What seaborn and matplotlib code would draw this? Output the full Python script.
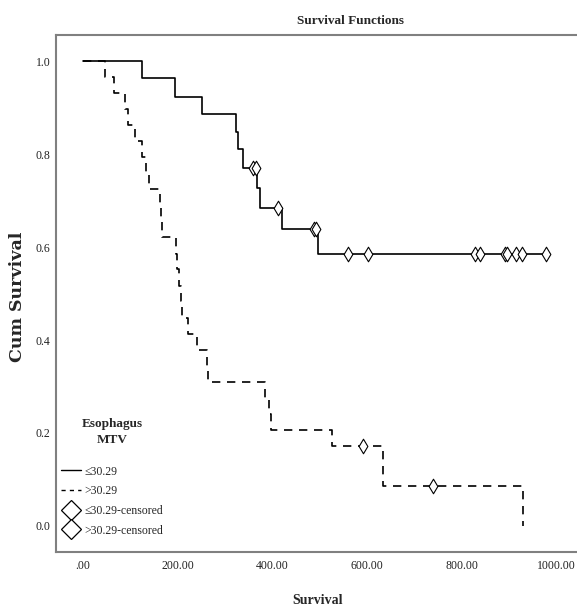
import matplotlib
matplotlib.use('Agg')
import matplotlib.pyplot as plt
import seaborn as sns
import pandas as pd
from matplotlib.lines import Line2D

# step points (time, cumulative survival)
low_time = [0, 125, 195, 251, 323, 328, 338, 367, 374, 420, 497, 979]
low_surv = [1.0, 0.963, 0.923, 0.886, 0.848, 0.81, 0.77, 0.727, 0.685, 0.639, 0.585, 0.585]
low_cens_time = [359, 366, 412, 488, 493, 560, 603, 829, 839, 892, 896, 915, 928, 979]
low_cens_surv = [0.77, 0.77, 0.685, 0.639, 0.639, 0.585, 0.585, 0.585, 0.585, 0.585,
                 0.585, 0.585, 0.585, 0.585]

high_time = [0, 47, 66, 89, 95, 110, 125, 133, 140, 163, 165, 167, 197, 199, 203,
             207, 209, 222, 241, 262, 264, 385, 393, 397, 526, 634, 930]
high_surv = [1.0, 0.966, 0.931, 0.897, 0.862, 0.828, 0.793, 0.759, 0.724, 0.69,
             0.655, 0.621, 0.586, 0.552, 0.517, 0.483, 0.448, 0.414, 0.379, 0.345,
             0.31, 0.276, 0.241, 0.207, 0.172, 0.086, 0.0]
high_cens_time = [592, 740]
high_cens_surv = [0.172, 0.086]

x_ticks = [0, 200, 400, 600, 800, 1000]
x_labels = ['.00', '200.00', '400.00', '600.00', '800.00', '1000.00']
y_ticks = [0.0, 0.2, 0.4, 0.6, 0.8, 1.0]
y_labels = ['0.0', '0.2', '0.4', '0.6', '0.8', '1.0']

sns.set_style('white')
plt.rcParams['font.family'] = ['Liberation Serif', 'DejaVu Serif']

fig = plt.figure(figsize=(5.77, 6.11), dpi=100)
ax = fig.add_axes([0.097, 0.0966, 0.903, 0.846])

low = pd.DataFrame({'time': low_time, 'surv': low_surv})
high = pd.DataFrame({'time': high_time, 'surv': high_surv})

sns.lineplot(data=low, x='time', y='surv', ax=ax, color='black', lw=1.2,
             drawstyle='steps-post', estimator=None, sort=False)
sns.lineplot(data=high, x='time', y='surv', ax=ax, color='black', lw=1.2,
             drawstyle='steps-post', estimator=None, sort=False,
             linestyle=(0, (5, 4)))

sns.scatterplot(x=low_cens_time, y=low_cens_surv, ax=ax, marker='d', s=55,
                facecolor='white', edgecolor='black', linewidth=0.8, zorder=3)
sns.scatterplot(x=high_cens_time, y=high_cens_surv, ax=ax, marker='d', s=55,
                facecolor='white', edgecolor='black', linewidth=0.8, zorder=3)

ax.set_xlim(-57, 1044)
ax.set_ylim(-0.056, 1.056)
ax.set_xticks(x_ticks)
ax.set_xticklabels(x_labels)
ax.set_yticks(y_ticks)
ax.set_yticklabels(y_labels)
ax.tick_params(length=0, labelsize=8.5, colors='#222222')
ax.tick_params(axis='x', pad=6)
ax.tick_params(axis='y', pad=4)
ax.set_xlabel('')
ax.set_ylabel('')
for name, sp in ax.spines.items():
    sp.set_color('#808080')
    sp.set_linewidth(1.5)
ax.spines['right'].set_visible(False)

fig.text(0.607, 0.965, 'Survival Functions', ha='center', va='center',
         fontsize=9.5, fontweight='bold')
fig.text(0.55, 0.018, 'Survival', ha='center', va='center',
         fontsize=10, fontweight='bold')
fig.text(0.03, 0.514, 'Cum Survival', ha='center', va='center', rotation=90,
         fontsize=12.5, fontweight='bold', family='DejaVu Serif')

# legend title drawn on its own so the spacing can follow the picture
fig.text(0.194, 0.293, 'Esophagus\nMTV', ha='center', va='center',
         fontsize=9.5, fontweight='bold', linespacing=1.55)

handles = [
    Line2D([], [], color='black', lw=1.0),
    Line2D([], [], color='black', lw=1.0, linestyle=(0, (3, 3))),
    Line2D([], [], color='black', lw=0, marker='D', markersize=10,
           markerfacecolor='white', markeredgewidth=0.9),
    Line2D([], [], color='black', lw=0, marker='D', markersize=10,
           markerfacecolor='white', markeredgewidth=0.9),
]
labels = ['≤30.29', '>30.29', '≤30.29-censored', '>30.29-censored']
leg = ax.legend(handles, labels, loc='upper left',
                bbox_to_anchor=(0.106, 0.238), bbox_transform=fig.transFigure,
                frameon=False, fontsize=8.5, handlelength=1.7,
                handletextpad=0.3, labelspacing=0.65, borderpad=0,
                borderaxespad=0)

fig.savefig('out.png', dpi=100)
